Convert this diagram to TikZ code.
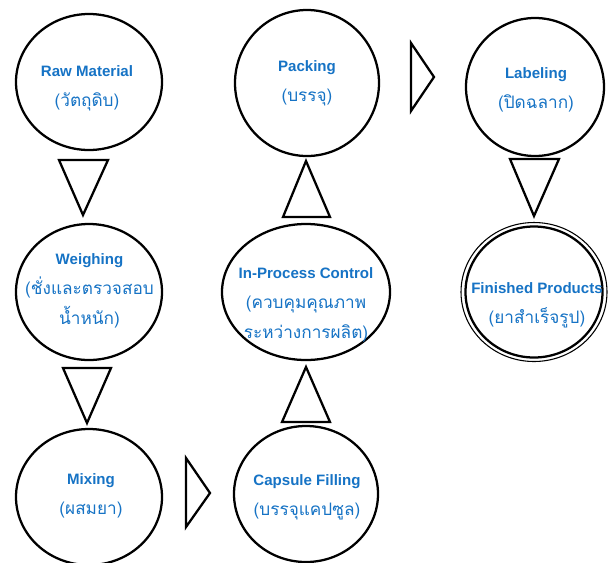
\documentclass[tikz,border=0pt]{standalone}
\usepackage{fontspec}
\setmainfont{Liberation Sans}
\newfontfamily\thaifont[Script=Thai]{Loma}
\usetikzlibrary{shapes.geometric}
\definecolor{txtblue}{RGB}{22,115,197}
\tikzset{
  stage/.style={draw=black, line width=1.7pt, ellipse, inner sep=0pt, fill=white},
  sz/.style 2 args={minimum width={#1*0.75pt}, minimum height={#2*0.75pt}},
  lbl/.style={text=txtblue, align=center, inner sep=0pt, font=\fontsize{11.3}{22.5}\selectfont},
  tri/.style={draw=black, line width=1.7pt, line join=miter, fill=white}
}
\newcommand{\entxt}[1]{\textbf{#1}}
\newcommand{\thtxt}[1]{{\thaifont\fontsize{12.9}{22.5}\selectfont #1}}
\begin{document}
\begin{tikzpicture}[x=0.75pt, y=-0.75pt]
\useasboundingbox (0,0) rectangle (610,562);
\clip (0,0) rectangle (610,562);
% stages
\node[stage, sz={146}{136}] (raw) at (89,82) {};
\node[stage, sz={146}{136}] (weigh) at (89,292) {};
\node[stage, sz={146}{136}] (mix) at (89,497) {};
\node[stage, sz={144}{136}] (caps) at (306,494) {};
\node[stage, sz={168}{136}] (ipc) at (306,292) {};
\node[stage, sz={144}{146}] (pack) at (307,83) {};
\node[stage, sz={138}{138}] (label) at (535,87) {};
\node[draw=black, line width=0.8pt, ellipse, inner sep=0pt, sz={146}{139}] (finout) at (534,292) {};
\node[stage, sz={137}{131}] (fin) at (534,292) {};
% labels
\node[lbl] (raw-t) at (87,88) {\entxt{Raw Material}\\\thtxt{(วัตถุดิบ)}};
\node[lbl] (weigh-t) at (89.5,291) {\entxt{Weighing}\\\thtxt{(ชั่งและตรวจสอบ}\\\thtxt{น้ำหนัก)}};
\node[lbl] (mix-t) at (91,496) {\entxt{Mixing}\\\thtxt{(ผสมยา)}};
\node[lbl] (caps-t) at (307,497.5) {\entxt{Capsule Filling}\\\thtxt{(บรรจุแคปซูล)}};
\node[lbl] (ipc-t) at (306,304.5) {\entxt{In-Process Control}\\\thtxt{(ควบคุมคุณภาพ}\\\thtxt{ระหว่างการผลิต)}};
\node[lbl] (pack-t) at (307,83) {\entxt{Packing}\\\thtxt{(บรรจุ)}};
\node[lbl] (label-t) at (536,90) {\entxt{Labeling}\\\thtxt{(ปิดฉลาก)}};
\node[lbl] (fin-t) at (537,305.5) {\entxt{Finished Products}\\\thtxt{(ยาสำเร็จรูป)}};
% triangle connectors
\draw[tri] (59,160) -- (108,160) -- (83,215) -- cycle;
\draw[tri] (63,368) -- (111,368) -- (87,423) -- cycle;
\draw[tri] (186,458) -- (186,527) -- (210,493) -- cycle;
\draw[tri] (282,422) -- (330,422) -- (306,367) -- cycle;
\draw[tri] (283,217) -- (330,217) -- (306,161) -- cycle;
\draw[tri] (411,43) -- (411,111) -- (434,77) -- cycle;
\draw[tri] (510,159) -- (559,159) -- (534,216) -- cycle;
\end{tikzpicture}
\end{document}
